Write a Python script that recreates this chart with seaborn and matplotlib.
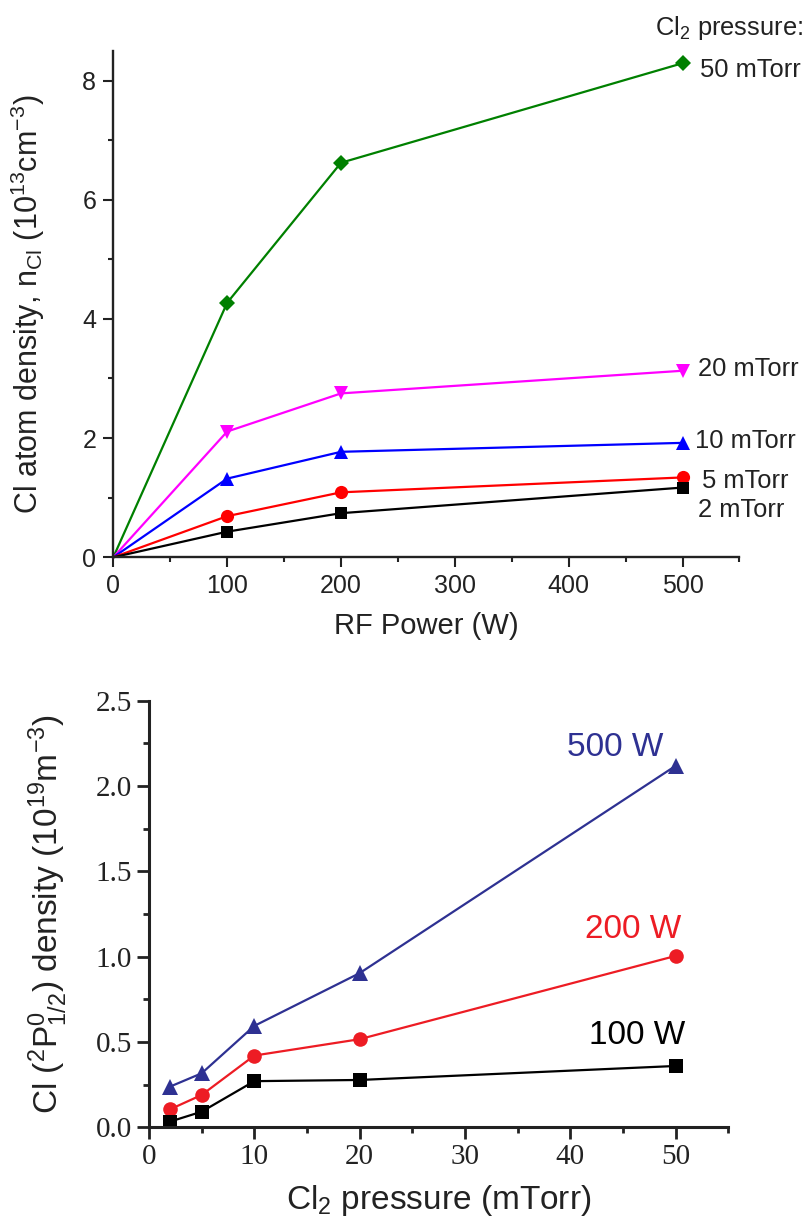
import numpy as np
import pandas as pd
import matplotlib
matplotlib.use("Agg")
import matplotlib.pyplot as plt
import seaborn as sns
from matplotlib.ticker import MultipleLocator

# top panel: Cl atom density vs RF power, one series per Cl2 pressure
rf_power = [0, 100, 200, 500]
pressure_labels = ["50 mTorr", "20 mTorr", "10 mTorr", "5 mTorr", "2 mTorr"]
n_50 = [0, 4.27, 6.62, 8.29]
n_20 = [0, 2.11, 2.75, 3.13]
n_10 = [0, 1.32, 1.77, 1.92]
n_5 = [0, 0.69, 1.09, 1.34]
n_2 = [0, 0.43, 0.74, 1.17]

# bottom panel: Cl(2P1/2) density vs Cl2 pressure, one series per RF power
pressure = [2, 5, 10, 20, 50]
power_labels = ["500 W", "200 W", "100 W"]
d_500 = [0.238, 0.316, 0.594, 0.903, 2.118]
d_200 = [0.105, 0.189, 0.42, 0.516, 1.004]
d_100 = [0.033, 0.091, 0.27, 0.277, 0.359]

sns.set_style("ticks")
plt.rcParams['font.family'] = ['Liberation Sans', 'DejaVu Sans']
plt.rcParams['mathtext.fontset'] = 'custom'
plt.rcParams['mathtext.rm'] = 'Liberation Sans'
plt.rcParams['mathtext.it'] = 'Liberation Sans:italic'
plt.rcParams['mathtext.bf'] = 'Liberation Sans:bold'

fig = plt.figure(figsize=(8.11, 12.16), dpi=100)
ax1 = fig.add_axes([0.1397, 0.5417, 0.7721, 0.4166])
ax2 = fig.add_axes([0.1837, 0.0730, 0.7143, 0.3508])

# ---- top panel
top_series = [n_50, n_20, n_10, n_5, n_2]
top_colors = ["#008000", "#ff00ff", "#0000ff", "#ff0000", "#000000"]
top_markers = ["D", "v", "^", "o", "s"]
top_msize = [8.5, 10, 10, 9.5, 8]
# label offsets (points) from the last point: dx, dy
top_offsets = [(12.5, -9.6), (11, -3.6), (8.9, -3.8), (13.7, -7.7), (11, -20.9)]

for vals, col, mk, ms, lab, off in zip(top_series, top_colors, top_markers,
                                         top_msize, pressure_labels, top_offsets):
    sns.lineplot(x=rf_power, y=vals, ax=ax1, color=col, marker=mk, markersize=ms,
                 markeredgewidth=0, linewidth=1.6, markevery=[1, 2, 3], clip_on=False)
    ax1.annotate(lab, xy=(rf_power[-1], vals[-1]), xytext=off,
                 textcoords="offset points", ha="left", va="baseline",
                 fontsize=18.4, color="#222222")

ax1.set_xlim(0, 550)
ax1.set_ylim(0, 8.5)
ax1.set_xticks([0, 100, 200, 300, 400, 500])
ax1.set_yticks([0, 2, 4, 6, 8])
ax1.xaxis.set_minor_locator(MultipleLocator(50))
ax1.yaxis.set_minor_locator(MultipleLocator(1))
ax1.tick_params(which="major", direction="out", length=7.2, width=1.5,
                labelsize=18, colors="#222222", pad=5)
ax1.tick_params(which="minor", direction="out", length=3.6, width=1.5, colors="#222222")
ax1.set_xlabel("RF Power (W)", fontsize=21, color="#222222")
ax1.set_ylabel(r"Cl atom density, n$_{\mathrm{Cl}}$ (10$^{13}$cm$^{-3}$)",
               fontsize=22, color="#222222")
ax1.xaxis.set_label_coords(0.5, -0.108)
ax1.yaxis.set_label_coords(-0.106, 0.5)
sns.despine(ax=ax1)
for s in ["left", "bottom"]:
    ax1.spines[s].set_linewidth(1.7)
    ax1.spines[s].set_color("#222222")

fig.text(0.990, 0.9712, r"Cl$_2$ pressure:", ha="right", va="baseline",
         fontsize=18.4, color="#222222")

# ---- bottom panel
bot_series = [d_500, d_200, d_100]
bot_colors = ["#2e3192", "#ed1c24", "#000000"]
bot_markers = ["^", "o", "s"]
bot_msize = [11.5, 10.5, 9.5]
bot_offsets = [(-8.6, 7.2), (4.3, 12.7), (7.2, 15.8)]

for vals, col, mk, ms, lab, off in zip(bot_series, bot_colors, bot_markers,
                                         bot_msize, power_labels, bot_offsets):
    sns.lineplot(x=pressure, y=vals, ax=ax2, color=col, marker=mk, markersize=ms,
                 markeredgewidth=0, linewidth=1.6, clip_on=False)
    ax2.annotate(lab, xy=(pressure[-1], vals[-1]), xytext=off,
                 textcoords="offset points", ha="right", va="baseline",
                 fontsize=24, color=col)

ax2.set_xlim(0, 55)
ax2.set_ylim(0, 2.5)
ax2.set_xticks([0, 10, 20, 30, 40, 50])
ax2.set_yticks([0, 0.5, 1.0, 1.5, 2.0, 2.5])
ax2.set_yticklabels(["0.0", "0.5", "1.0", "1.5", "2.0", "2.5"])
ax2.xaxis.set_minor_locator(MultipleLocator(5))
ax2.yaxis.set_minor_locator(MultipleLocator(0.25))
ax2.tick_params(which="major", direction="out", length=8.4, width=2,
                labelsize=21, colors="#222222", labelfontfamily="Liberation Serif", pad=4)
ax2.tick_params(which="minor", direction="out", length=4.5, width=2, colors="#222222")
ax2.set_xlabel(r"Cl$_2$ pressure (mTorr)", fontsize=24, color="#222222")
ax2.set_ylabel(r"Cl ($^2$P$^0_{1/2}$) density (10$^{19}$m$^{-3}$)",
               fontsize=24, color="#222222")
ax2.xaxis.set_label_coords(0.5, -0.13)
ax2.yaxis.set_label_coords(-0.136, 0.5)
sns.despine(ax=ax2)
for s in ["left", "bottom"]:
    ax2.spines[s].set_linewidth(2.2)
    ax2.spines[s].set_color("#222222")

fig.savefig("out.png", dpi=100)
